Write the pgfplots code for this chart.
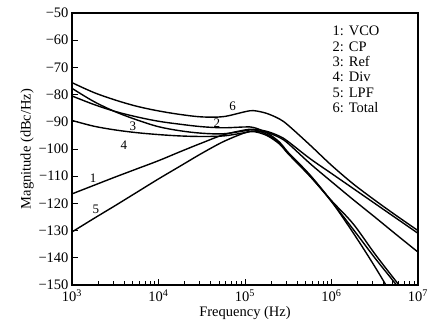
\documentclass[border=0pt]{standalone}
\usepackage{pgfplots}
\pgfplotsset{compat=1.18}
\usepackage{fontspec}
\setmainfont{Liberation Serif}
\begin{document}
\begin{tikzpicture}
\pgfplotsset{curve/.style={black, solid, line width=1.4pt, smooth, tension=0.55, mark=none}}
\begin{axis}[
  scale only axis, width=346pt, height=272pt,
  xmode=log, xmin=1e3, xmax=1e7, ymin=-150, ymax=-50,
  xtick={1e3,1e4,1e5,1e6,1e7},
  xticklabels={10\textsuperscript{3},10\textsuperscript{4},10\textsuperscript{5},10\textsuperscript{6},10\textsuperscript{7}},
  ytick={-150,-140,-130,-120,-110,-100,-90,-80,-70,-60,-50},
  yticklabels={−150,−140,−130,−120,−110,−100,−90,−80,−70,−60,−50},
  xtick pos=bottom, ytick pos=left, tick align=inside,
  major tick length=6pt, minor tick length=3.5pt,
  tick style={line width=0.9pt, black},
  axis line style={line width=1.1pt},
  every tick label/.append style={font=\fontsize{14.5}{15}\selectfont},
  xticklabel style={yshift=-1pt},
  label style={font=\fontsize{14.5}{15}\selectfont},
  xlabel={Frequency (Hz)}, ylabel={Magnitude (dBc/Hz)},
  xlabel style={yshift=2pt}, ylabel style={yshift=-2pt},
  clip=true,
]
% 6: Total
\addplot[curve] coordinates {(1000,-75.6)(1778.3,-79.2)(3162.3,-82.0)(5623.4,-84.3)(10000,-86.0)(17782.8,-87.3)(31622.8,-88.2)(56234.1,-88.1)(100000,-86.3)(125892.5,-85.9)(177827.9,-86.9)(251188.6,-89.0)(316227.8,-91.3)(562341.3,-98.5)(1000000,-106.0)(1778279,-112.8)(3162278,-118.8)(5623413,-124.5)(10000000,-130.0)};
% 1: VCO
\addplot[curve] coordinates {(1000,-116.5)(1778.3,-113.4)(3162.3,-110.3)(5623.4,-107.3)(10000,-104.3)(17782.8,-101.0)(31622.8,-97.8)(56234.1,-94.8)(100000,-93.0)(125892.5,-92.8)(177827.9,-93.5)(251188.6,-95.3)(316227.8,-97.3)(562341.3,-103.5)(1000000,-109.0)(1778279,-114.5)(3162278,-120.0)(5623413,-125.5)(10000000,-131.0)};
% 5: LPF
\addplot[curve] coordinates {(1000,-130.5)(1778.3,-125.6)(3162.3,-120.8)(5623.4,-115.9)(10000,-111.0)(17782.8,-106.3)(31622.8,-101.6)(56234.1,-97.3)(100000,-94.0)(125892.5,-93.4)(177827.9,-93.9)(251188.6,-95.8)(316227.8,-98.0)(562341.3,-105.3)(1000000,-112.0)(1778279,-118.6)(3162278,-125.0)(5623413,-131.5)(10000000,-137.9)};
% 2: CP
\addplot[curve] coordinates {(1000,-80.5)(1778.3,-83.6)(3162.3,-86.2)(5623.4,-88.2)(10000,-89.8)(17782.8,-90.9)(31622.8,-91.8)(56234.1,-92.2)(100000,-91.9)(125892.5,-92.1)(177827.9,-94.0)(251188.6,-97.5)(316227.8,-101.3)(562341.3,-109.5)(1000000,-119.3)(1778279,-130.8)(3162278,-143.2)(5623413,-156.5)};
% 3: Ref
\addplot[curve] coordinates {(1000,-77.7)(1778.3,-82.5)(3162.3,-86.3)(5623.4,-89.3)(10000,-91.8)(17782.8,-93.3)(31622.8,-94.2)(56234.1,-94.4)(100000,-93.3)(125892.5,-92.9)(177827.9,-94.6)(251188.6,-97.9)(316227.8,-101.6)(562341.3,-109.8)(1000000,-119.3)(1778279,-129.5)(3162278,-140.0)(5623413,-150.0)(10000000,-160.5)};
% 4: Div
\addplot[curve] coordinates {(1000,-89.5)(1778.3,-91.6)(3162.3,-93.0)(5623.4,-94.0)(10000,-94.7)(17782.8,-95.2)(31622.8,-95.4)(56234.1,-95.2)(100000,-94.0)(125892.5,-93.6)(177827.9,-95.0)(251188.6,-98.2)(316227.8,-101.8)(562341.3,-110.0)(1000000,-119.0)(1778279,-127.5)(3162278,-138.5)(5623413,-148.8)(10000000,-159.0)};
\begin{scope}[every node/.style={font=\fontsize{13}{14}\selectfont, inner sep=1pt}]
\node at (axis cs:1750,-110.7) {1};
\node at (axis cs:1893,-122) {5};
\node at (axis cs:5070,-91.5) {3};
\node at (axis cs:3980,-98.5) {4};
\node at (axis cs:47400,-90.4) {2};
\node at (axis cs:72100,-84.2) {6};
\end{scope}
\node[anchor=north west, align=left, inner sep=0pt, font=\fontsize{14.5}{15.3}\selectfont] at (rel axis cs:0.753,0.952) {1: VCO\\2: CP\\3: Ref\\4: Div\\5: LPF\\6: Total};
\end{axis}
\pgfresetboundingbox
\path[use as bounding box] (-72pt,-47pt) rectangle (368pt,285pt);
\end{tikzpicture}
\end{document}
